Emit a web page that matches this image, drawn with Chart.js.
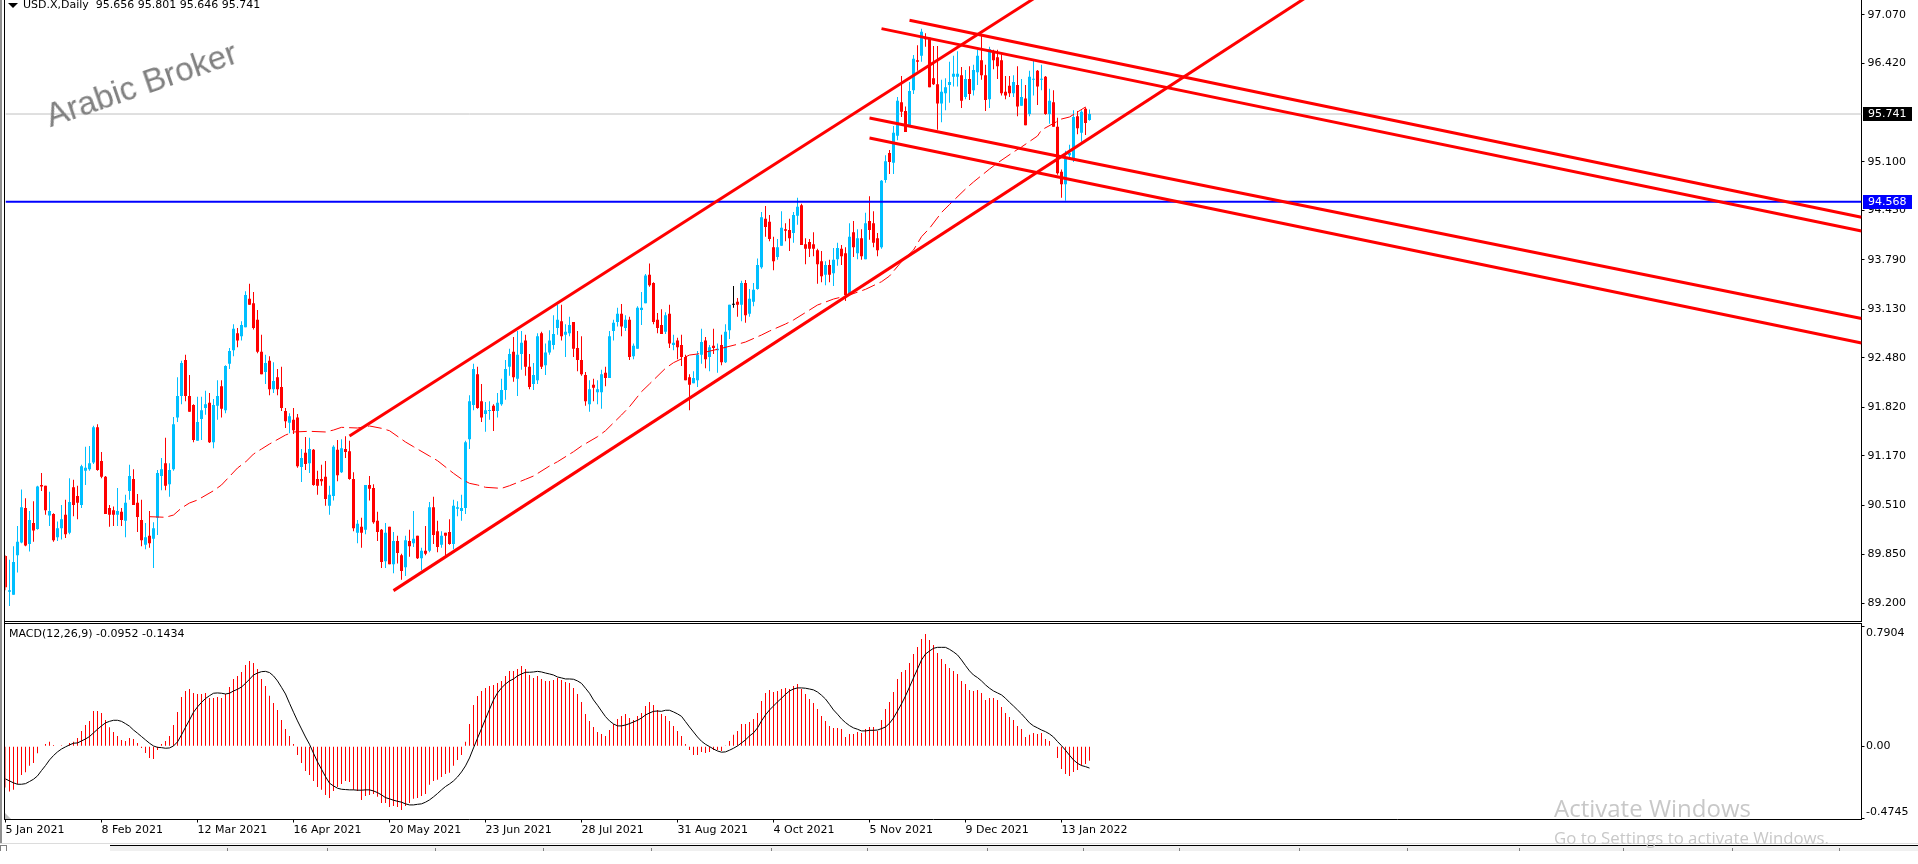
<!DOCTYPE html>
<html>
<head>
<meta charset="utf-8">
<title>USD.X Daily</title>
<script src="https://cdn.jsdelivr.net/npm/chart.js@4/dist/chart.umd.min.js"></script>
<style>
html, body { margin: 0; padding: 0; background: #fff; overflow: hidden; }
#page { position: relative; width: 1918px; height: 864px; overflow: hidden; font: 11px "DejaVu Sans", sans-serif; color: #000; }
canvas { position: absolute; left: 0; }
#priceCanvas { top: 0; }
#macdCanvas { top: 623px; }
.box { position: absolute; }
.label { position: absolute; white-space: pre; line-height: 12px; }
#brand { position: absolute; left: 52px; top: 99px; font: 33px "Liberation Sans", sans-serif; color: #808080; line-height: 33px; white-space: pre; transform: rotate(-19deg); transform-origin: 0 100%; }
.activate { position: absolute; left: 1554px; color: #c8c8c8; font-family: "Open Sans", sans-serif; white-space: pre; }
</style>
</head>
<body>
<div id="page">
  <canvas id="priceCanvas" width="1918" height="622"></canvas>
  <canvas id="macdCanvas" width="1918" height="222"></canvas>

  <div class="box" style="left:0;top:0;width:2px;height:843px;background:#909090"></div>
  <div class="box" style="left:4px;top:0;width:1px;height:820px;background:#000"></div>
  <div class="box" style="left:4px;top:621px;width:1858px;height:1px;background:#000"></div>
  <div class="box" style="left:4px;top:623px;width:1858px;height:1px;background:#000"></div>
  <div class="box" style="left:8px;top:3px;border-left:5px solid transparent;border-right:5px solid transparent;border-top:5px solid #000"></div>
  <div class="box" style="left:5px;top:813px;border-left:6px solid #c0c0c0;border-top:6px solid transparent"></div>

  <div class="label" style="left:23px;top:-1px">USD.X,Daily  95.656 95.801 95.646 95.741</div>
  <div class="label" style="left:9px;top:628px">MACD(12,26,9) -0.0952 -0.1434</div>
  <div id="brand">Arabic Broker</div>

  <div class="box" style="left:0;top:843px;width:1918px;height:1px;background:#dcdcdc"></div>
  <div class="box" style="left:110px;top:845px;width:1808px;height:6px;background:#f0f0f0;border-top:1px solid #000;box-sizing:border-box"></div>
  <div class="box" style="left:0;top:845px;width:7px;height:6px;border:1px solid #808080;border-bottom:0;box-sizing:border-box"></div>
  <div id="tabs"></div>

  <div class="activate" style="top:793px;font-size:24px;line-height:30px">Activate Windows</div>
  <div class="activate" style="top:827px;font-size:16.8px;line-height:22px">Go to Settings to activate Windows.</div>
  <div class="box" style="left:0;top:851px;width:1918px;height:13px;background:#fff"></div>
</div>

<script>
const tickDates = ['5 Jan 2021', '8 Feb 2021', '12 Mar 2021', '16 Apr 2021', '20 May 2021', '23 Jun 2021',
    '28 Jul 2021', '31 Aug 2021', '4 Oct 2021', '5 Nov 2021', '9 Dec 2021', '13 Jan 2022'];
const priceTicks = [97.07, 96.42, 95.1, 94.45, 93.79, 93.13, 92.48, 91.82, 91.17, 90.51, 89.85, 89.2];
const macdTicks = [0.7904, 0, -0.4745];

const candleOpen = [
    89.83,89.35,89.31,89.84,90.01,90.47,89.99,90.27,90.19,90.78,90.77,90.37,90.39,90.08,90.20,90.38,90.14,90.75,90.63,90.51,
    90.97,90.99,91.08,91.55,91.10,90.89,90.47,90.44,90.38,90.42,90.30,90.70,90.86,90.54,90.31,89.98,90.10,90.06,90.34,90.90,
    91.07,90.79,90.99,91.68,91.97,92.45,91.97,91.85,91.37,91.66,91.81,91.88,91.35,91.84,92.10,91.78,92.40,92.58,92.81,92.77,
    92.89,93.27,93.21,92.99,92.56,92.29,92.44,92.06,92.22,92.09,91.77,91.61,91.65,91.68,91.02,91.21,91.07,91.25,90.86,90.86,
    90.89,90.50,90.63,91.25,90.95,91.26,91.23,90.86,90.14,90.22,90.18,90.78,90.74,90.30,90.18,89.76,90.22,89.72,90.03,89.84,
    89.68,90.03,90.00,90.10,89.80,89.90,89.90,90.48,90.16,89.98,90.14,90.15,89.99,90.46,90.43,90.47,91.39,91.85,92.26,91.90,
    91.73,91.77,91.84,91.77,91.86,92.05,92.36,92.56,92.20,92.53,92.71,92.36,92.13,92.18,92.81,92.38,92.55,92.65,92.88,92.97,
    92.79,92.81,92.96,92.61,92.45,92.25,91.86,92.12,92.02,92.02,92.28,92.21,92.84,92.96,93.07,92.88,92.99,92.50,92.60,93.12,
    93.21,93.59,93.48,92.99,92.92,92.83,93.07,92.65,92.71,92.65,92.49,92.22,92.14,92.18,92.52,92.71,92.49,92.64,92.58,92.65,
    92.42,92.85,93.19,93.23,93.19,93.48,93.07,93.23,93.40,93.69,94.34,94.30,93.96,93.83,93.98,94.20,94.19,94.15,94.38,94.52,
    94.00,94.03,94.00,93.92,93.77,93.59,93.72,93.61,93.80,93.94,93.88,93.33,94.16,93.88,94.08,93.80,94.31,94.28,94.08,93.96,
    94.86,95.22,95.09,95.45,95.90,95.78,95.58,96.06,96.46,96.52,96.76,96.76,96.22,96.14,95.88,96.02,96.13,96.24,96.24,96.26,
    95.97,96.21,96.06,96.30,96.46,96.26,95.94,96.58,96.50,96.46,96.04,96.12,96.02,96.13,95.85,95.95,95.74,96.20,96.32,96.20,
    96.24,95.74,95.90,95.57,94.97,94.80,95.19,95.14,95.71,95.49,95.81,95.66];
const candleClose = [
    89.41,89.37,89.75,90.02,90.48,89.97,90.31,90.17,90.76,90.76,90.44,90.43,90.04,90.20,90.32,90.12,90.55,90.51,90.54,91.03,
    91.01,91.07,91.55,90.98,90.89,90.39,90.38,90.38,90.43,90.31,90.54,90.90,90.51,90.35,90.04,90.08,90.00,90.20,90.94,90.99,
    90.77,90.98,91.59,91.97,92.41,91.97,91.76,91.38,91.62,91.78,91.86,91.35,91.85,91.97,91.80,92.37,92.57,92.87,92.71,92.92,
    93.32,93.19,92.88,92.56,92.26,92.41,92.06,92.17,92.06,91.81,91.63,91.70,91.51,91.03,91.14,91.06,91.26,90.78,90.77,90.83,
    90.59,90.65,91.29,90.91,91.27,91.22,90.86,90.20,90.26,90.14,90.78,90.73,90.28,90.15,89.75,90.14,89.72,90.03,89.87,89.63,
    90.04,89.96,90.06,89.80,89.90,89.86,90.48,90.11,89.95,90.10,90.10,89.99,90.50,90.48,90.47,91.35,91.90,92.33,91.81,91.68,
    91.78,91.78,91.77,91.88,92.05,92.33,92.53,92.22,92.52,92.68,92.36,92.09,92.25,92.77,92.36,92.55,92.71,92.80,92.99,92.77,
    92.83,92.92,92.60,92.45,92.26,91.90,92.06,92.08,92.06,92.26,92.21,92.77,92.95,93.07,92.90,92.99,92.49,92.64,93.15,93.15,
    93.58,93.45,92.96,92.88,92.80,93.05,92.67,92.68,92.62,92.49,92.18,92.12,92.21,92.52,92.69,92.46,92.62,92.61,92.60,92.42,
    92.83,93.19,93.19,93.19,93.48,93.05,93.27,93.39,93.72,94.36,94.23,94.07,93.77,93.96,94.22,94.18,94.08,94.39,94.50,93.99,
    93.94,93.94,93.94,93.73,93.57,93.72,93.59,93.79,93.95,93.84,93.32,94.10,93.96,94.08,93.84,94.28,94.19,94.02,93.92,94.85,
    95.11,95.10,95.49,95.92,95.77,95.50,96.05,96.48,96.44,96.84,96.74,96.10,96.14,95.88,96.04,96.10,96.17,96.28,96.28,95.92,
    96.21,96.01,96.33,96.52,96.26,95.93,96.61,96.46,96.38,96.02,95.99,96.02,96.17,95.84,95.97,95.59,96.24,96.21,96.11,96.21,
    95.74,95.92,95.57,94.95,94.80,95.14,95.22,95.70,95.55,95.77,95.62,95.74];
const candleHigh = [
    89.84,89.78,89.96,90.23,90.72,90.60,90.43,90.56,90.77,90.94,90.77,90.69,90.40,90.29,90.51,90.58,90.87,90.85,90.77,91.05,
    91.29,91.30,91.57,91.59,91.22,90.90,90.51,90.49,90.74,90.47,90.65,91.05,90.99,90.66,90.58,90.27,90.43,90.28,90.98,91.14,
    91.41,91.07,91.69,92.22,92.44,92.52,92.25,91.86,91.96,91.96,92.04,92.01,91.93,92.18,92.18,92.38,92.61,92.93,92.88,92.97,
    93.37,93.47,93.36,93.12,92.79,92.52,92.50,92.42,92.33,92.36,91.81,91.74,91.81,91.73,91.26,91.42,91.41,91.26,90.97,91.05,
    91.10,90.77,91.31,91.38,91.39,91.43,91.37,90.95,90.31,90.34,90.78,90.90,90.79,90.42,90.19,90.27,90.22,90.15,90.10,89.86,
    90.10,90.18,90.43,90.10,89.94,90.23,90.55,90.62,90.30,90.16,90.14,90.32,90.58,90.56,90.65,91.37,91.98,92.40,92.36,92.13,
    91.89,91.90,91.86,92.01,92.20,92.45,92.60,92.76,92.84,92.84,92.79,92.53,92.41,92.81,92.83,92.67,92.85,93.05,93.19,93.19,
    92.93,93.03,92.96,92.84,92.77,92.29,92.18,92.20,92.18,92.32,92.36,92.84,92.99,93.15,93.20,93.05,93.03,92.67,93.17,93.36,
    93.60,93.74,93.49,93.08,93.13,93.09,93.19,92.79,92.75,92.79,92.52,92.26,92.30,92.57,92.87,92.76,92.65,92.87,92.67,92.79,
    92.93,93.19,93.44,93.28,93.51,93.52,93.40,93.48,93.81,94.43,94.51,94.39,94.10,94.07,94.44,94.28,94.34,94.43,94.62,94.54,
    94.08,94.07,94.16,93.94,93.91,93.77,93.79,93.95,94.02,93.99,93.96,94.28,94.31,94.20,94.20,94.42,94.64,94.44,94.15,94.86,
    95.19,95.26,95.58,95.97,96.25,95.84,96.17,96.53,96.66,96.88,96.82,96.76,96.65,96.65,96.20,96.22,96.44,96.52,96.58,96.37,
    96.33,96.38,96.40,96.60,96.80,96.40,96.64,96.60,96.60,96.54,96.25,96.25,96.26,96.38,96.21,96.13,96.32,96.45,96.33,96.40,
    96.25,96.08,96.06,95.69,95.00,95.25,95.33,95.79,95.78,95.79,95.83,95.80];
const candleLow = [
    89.37,89.16,89.31,89.61,90.00,89.96,89.89,90.02,90.18,90.70,90.38,90.23,90.02,90.03,90.05,90.07,90.12,90.36,90.32,90.47,
    90.78,90.97,91.06,90.97,90.87,90.39,90.22,90.23,90.23,90.23,90.08,90.58,90.51,90.15,89.96,89.92,89.94,89.67,90.11,90.71,
    90.71,90.62,90.97,91.62,91.86,91.90,91.76,91.35,91.37,91.38,91.72,91.34,91.27,91.65,91.68,91.74,92.33,92.50,92.62,92.71,
    92.89,93.19,92.86,92.54,92.26,92.13,91.98,92.01,91.98,91.77,91.54,91.47,91.46,91.01,90.82,90.98,90.94,90.77,90.65,90.77,
    90.50,90.38,90.57,90.83,90.94,91.14,90.85,90.16,90.00,89.94,90.12,90.57,90.26,90.03,89.67,89.67,89.72,89.60,89.73,89.51,
    89.56,89.82,89.95,89.79,89.64,89.84,89.88,89.99,89.88,89.94,89.83,89.98,89.92,90.36,90.30,90.39,91.26,91.78,91.80,91.62,
    91.49,91.65,91.50,91.68,91.84,91.92,92.24,92.16,91.97,92.32,92.24,92.06,92.05,92.13,92.33,92.25,92.52,92.59,92.79,92.71,
    92.49,92.77,92.49,92.30,92.24,91.84,91.76,91.90,91.86,91.80,92.10,92.21,92.71,92.90,92.77,92.84,92.45,92.46,92.60,92.92,
    93.21,93.43,92.93,92.81,92.80,92.80,92.61,92.58,92.46,92.37,92.18,91.78,92.14,92.09,92.40,92.34,92.30,92.53,92.28,92.38,
    92.41,92.73,93.15,93.03,92.97,92.95,93.03,93.17,93.39,93.67,94.10,94.04,93.65,93.79,93.98,94.04,93.91,94.02,94.26,93.99,
    93.73,93.83,93.84,93.47,93.49,93.45,93.49,93.44,93.71,93.72,93.24,93.32,93.83,93.80,93.79,93.80,94.06,93.96,93.84,93.94,
    94.82,94.94,94.94,95.39,95.70,95.50,95.58,96.01,96.32,96.44,96.64,96.10,96.13,95.53,95.63,95.79,95.89,96.11,96.11,95.82,
    95.94,95.93,95.99,96.13,96.20,95.78,95.82,96.34,96.21,95.99,95.94,95.97,95.97,95.71,95.85,95.59,95.71,95.99,95.86,96.06,
    95.73,95.61,95.57,94.93,94.62,94.58,95.15,95.10,95.47,95.37,95.46,95.65];

// moving average at these bars
const maBars = [36,40,42,44,46,48,52,54,58,60,62,64,66,70,72,76,80,82,84,88,91,94,96,100,102,106,108,112,114,116,118,
    120,124,126,130,132,136,138,142,144,148,150,154,156,159,161,165,167,171,173,179,183,185,189,191,195,197,201,203,207,
    211,215,219,221,224,227,229,231,234,236,240,242,246,248,252,254,258,259,264,266,270];
const maValues = [90.355,90.347,90.377,90.471,90.538,90.578,90.702,90.779,91.006,91.086,91.193,91.26,91.327,91.447,91.488,91.497,
    91.488,91.514,91.55,91.541,91.568,91.537,91.505,91.354,91.291,91.166,91.104,90.935,90.859,90.801,90.779,
    90.748,90.734,90.769,90.855,90.899,91.033,91.09,91.224,91.3,91.425,91.505,91.715,91.826,92.027,92.13,92.34,92.415,92.517,92.531,
    92.607,92.661,92.691,92.785,92.838,92.932,92.986,93.119,93.186,93.266,93.32,93.396,93.498,93.574,93.766,93.922,94.1,94.212,
    94.424,94.531,94.738,94.832,95.005,95.086,95.233,95.3,95.447,95.527,95.674,95.701,95.835];

const macdHist = [
    -.272,-.298,-.287,-.25,-.189,-.171,-.129,-.11,-.046,-.004,.015,.029,.009,.004,.007,.004,.022,.029,.055,.101,
    .14,.167,.232,.232,.219,.173,.125,.094,.068,.042,.035,.055,.048,.022,-.011,-.044,-.077,-.083,-.024,.015,
    .035,.068,.14,.226,.325,.364,.377,.351,.344,.344,.351,.318,.318,.325,.318,.344,.39,.443,.463,.489,
    .535,.561,.548,.509,.443,.397,.333,.285,.239,.173,.114,.068,.015,-.057,-.11,-.162,-.189,-.228,-.268,-.287,
    -.32,-.34,-.294,-.268,-.248,-.228,-.235,-.287,-.294,-.353,-.327,-.32,-.314,-.333,-.373,-.373,-.399,-.393,-.399,-.419,
    -.393,-.373,-.346,-.34,-.327,-.314,-.254,-.228,-.221,-.202,-.182,-.175,-.129,-.09,-.057,.029,.147,.272,.331,.364,
    .384,.397,.404,.417,.43,.463,.496,.496,.509,.529,.509,.469,.45,.463,.443,.43,.43,.436,.45,.436,
    .423,.417,.384,.344,.292,.213,.167,.127,.094,.081,.068,.107,.147,.18,.2,.213,.186,.173,.2,.219,
    .265,.292,.272,.239,.213,.2,.167,.134,.101,.068,.015,-.024,-.057,-.057,-.037,-.044,-.037,-.024,-.024,-.031,
    .002,.035,.075,.101,.147,.147,.16,.18,.219,.298,.351,.371,.357,.364,.377,.384,.377,.397,.41,.377,
    .344,.311,.285,.246,.2,.167,.134,.121,.121,.114,.061,.081,.081,.094,.088,.114,.127,.127,.101,.173,
    .246,.292,.357,.443,.489,.502,.548,.607,.654,.706,.739,.7,.667,.614,.575,.542,.515,.496,.476,.43,
    .41,.371,.364,.371,.351,.305,.318,.318,.305,.259,.219,.193,.173,.134,.114,.061,.075,.088,.081,.088,
    .048,.035,0,-.077,-.149,-.182,-.195,-.169,-.156,-.129,-.116,-.0952];
const macdSignal = [
    -.215,-.228,-.241,-.25,-.25,-.246,-.232,-.217,-.195,-.16,-.127,-.09,-.061,-.037,-.018,-.004,.009,.02,.022,.035,
    .048,.064,.088,.112,.134,.154,.164,.171,.171,.164,.149,.132,.107,.086,.064,.042,.02,.002,-.007,-.009,
    -.013,-.011,.002,.029,.075,.125,.173,.224,.259,.289,.314,.333,.349,.351,.349,.344,.349,.364,.375,.39,
    .414,.441,.469,.482,.491,.493,.485,.463,.43,.388,.344,.283,.224,.167,.114,.061,.013,-.046,-.103,-.151,
    -.2,-.243,-.261,-.276,-.283,-.285,-.287,-.287,-.289,-.289,-.287,-.287,-.294,-.305,-.32,-.338,-.346,-.355,-.362,-.368,
    -.379,-.386,-.386,-.382,-.379,-.368,-.353,-.333,-.311,-.287,-.265,-.248,-.228,-.202,-.169,-.129,-.077,-.011,.053,.116,
    .18,.243,.305,.351,.384,.41,.43,.443,.463,.476,.487,.487,.489,.493,.489,.482,.476,.469,.456,.45,
    .443,.443,.441,.43,.414,.382,.349,.305,.27,.232,.195,.167,.147,.134,.134,.14,.149,.16,.171,.186,
    .206,.219,.23,.232,.23,.237,.237,.226,.213,.197,.162,.127,.094,.061,.033,.013,-.002,-.018,-.031,-.039,
    -.037,-.026,-.013,.002,.022,.042,.068,.088,.121,.167,.206,.239,.265,.292,.316,.342,.364,.377,.384,.384,
    .382,.377,.371,.357,.336,.311,.276,.239,.211,.18,.156,.136,.121,.112,.101,.101,.105,.105,.107,.116,
    .127,.151,.186,.232,.279,.331,.39,.45,.509,.568,.607,.627,.645,.651,.651,.651,.638,.621,.601,.568,
    .531,.496,.469,.452,.43,.404,.382,.364,.351,.338,.316,.289,.265,.239,.213,.184,.154,.134,.121,.107,
    .096,.081,.061,.031,.004,-.026,-.059,-.09,-.112,-.127,-.134,-.1434];

// hand drawn channels: [bar, price] for each end
const channelUpTop = [[86, 91.435], [257, 97.282]];
const channelUpBottom = [[97, 89.366], [327, 97.365]];
const channelDown1 = [[226, 96.996], [464, 94.359]];
const channelDown2 = [[219, 96.883], [464, 94.176]];
const channelDown3 = [[216, 95.688], [464, 93.006]];
const channelDown4 = [[216, 95.42], [464, 92.678]];

const lastPrice = 95.741;
const supportPrice = 94.568;

const barSlots = 465;
const tickEvery = 24;
const axisLabels = Array.from({ length: barSlots }, (_, i) => tickDates[i / tickEvery] || '');

const UP = '#00bfff';
const DOWN = '#ff0000';
const TEXT_FONT = { family: 'DejaVu Sans', size: 11 };

const candleColor = candleOpen.map((o, i) => candleClose[i] > o ? UP : candleClose[i] < o ? DOWN : '#000000');

function channelLine(ends) {
    return { type: 'line', xAxisID: 'xLine', data: ends.map(p => ({ x: p[0], y: p[1] })), borderColor: DOWN, borderWidth: 3, pointRadius: 0, order: 1 };
}

function hLine(price, color, width, order) {
    return { type: 'line', xAxisID: 'xLine', data: [{ x: 0, y: price }, { x: barSlots - 1, y: price }], borderColor: color, borderWidth: width, pointRadius: 0, order: order };
}

// price boxes on the right axis
const priceBoxes = {
    id: 'priceBoxes',
    afterDraw(chart) {
        const ctx = chart.ctx, y = chart.scales.y;
        [[lastPrice, '#000000'], [supportPrice, '#0000ff']].forEach(([v, c]) => {
            const py = y.getPixelForValue(v);
            ctx.fillStyle = c;
            ctx.fillRect(1863, Math.round(py) - 7, 49, 14);
            ctx.fillStyle = '#ffffff';
            ctx.font = '11px "DejaVu Sans"';
            ctx.textBaseline = 'middle';
            ctx.textAlign = 'left';
            ctx.fillText(v.toFixed(3), 1868, Math.round(py) + 0.5);
        });
    }
};

// MT4 nudges the first and last macd labels inside the pane
const macdLabels = {
    id: 'macdLabels',
    afterDraw(chart) {
        const ctx = chart.ctx, y = chart.scales.y;
        const nudge = [7, 0, -6];
        ctx.fillStyle = '#000000';
        ctx.font = '11px "DejaVu Sans"';
        ctx.textBaseline = 'middle';
        ctx.textAlign = 'left';
        macdTicks.forEach((v, i) => {
            ctx.fillText(v === 0 ? '0.00' : String(v), 1866, y.getPixelForValue(v) + nudge[i]);
        });
    }
};

function fixRightAxis(scale) {
    scale.width = 56.5;
    scale.paddingTop = 0;
    scale.paddingBottom = 0;
}

const priceChart = new Chart(document.getElementById('priceCanvas'), {
    type: 'bar',
    plugins: [priceBoxes],
    data: {
        labels: axisLabels,
        datasets: [
            hLine(lastPrice, '#c0c0c0', 1, 6),
            { data: candleLow.map((l, i) => [l, candleHigh[i]]), backgroundColor: candleColor, barThickness: 1, grouped: false, inflateAmount: 0, order: 5 },
            { data: candleOpen.map((o, i) => [o, candleClose[i]]), backgroundColor: candleColor, barThickness: 3, grouped: false, inflateAmount: 0, minBarLength: 1, order: 4 },
            { type: 'line', xAxisID: 'xLine', data: maBars.map((b, i) => ({ x: b, y: maValues[i] })), borderColor: DOWN, borderWidth: 1, borderDash: [14, 5], pointRadius: 0, order: 3 },
            hLine(supportPrice, '#0000ff', 2, 2),
            channelLine(channelUpTop),
            channelLine(channelUpBottom),
            channelLine(channelDown1),
            channelLine(channelDown2),
            channelLine(channelDown3),
            channelLine(channelDown4)
        ]
    },
    options: {
        responsive: false,
        devicePixelRatio: 1,
        animation: false,
        layout: { padding: { left: 5.5, right: 0, top: 0, bottom: 0.5 } },
        plugins: { legend: { display: false }, tooltip: { enabled: false } },
        scales: {
            x: { display: false, offset: false, grid: { display: false } },
            xLine: { type: 'linear', display: false, min: 0, max: barSlots - 1, offset: false },
            y: {
                position: 'right',
                min: 88.953,
                max: 97.266,
                afterFit: fixRightAxis,
                afterBuildTicks(scale) { scale.ticks = priceTicks.map(v => ({ value: v })); },
                grid: { drawOnChartArea: false, color: '#000', tickLength: 3 },
                border: { color: '#000' },
                ticks: { autoSkip: false, color: '#000', font: TEXT_FONT, padding: 3, callback: v => v.toFixed(3) }
            }
        }
    }
});

const macdChart = new Chart(document.getElementById('macdCanvas'), {
    type: 'bar',
    plugins: [macdLabels],
    data: {
        labels: axisLabels,
        datasets: [
            { data: macdHist, backgroundColor: DOWN, barThickness: 1, inflateAmount: 0, order: 2 },
            { type: 'line', data: macdSignal, borderColor: '#000000', borderWidth: 1, pointRadius: 0, order: 1 }
        ]
    },
    options: {
        responsive: false,
        devicePixelRatio: 1,
        animation: false,
        layout: { padding: { left: 5.5, right: 0, top: 0.5, bottom: 0 } },
        plugins: { legend: { display: false }, tooltip: { enabled: false } },
        scales: {
            x: {
                offset: false,
                afterFit(scale) { scale.height = 25.5; scale.paddingLeft = 0; scale.paddingRight = 0; },
                afterBuildTicks(scale) { scale.ticks = scale.ticks.filter(t => axisLabels[t.value] !== ''); },
                grid: { drawOnChartArea: false, offset: false, color: '#000', tickLength: 3 },
                border: { color: '#000' },
                ticks: { autoSkip: false, maxRotation: 0, align: 'start', color: '#000', font: TEXT_FONT, padding: 1 }
            },
            y: {
                position: 'right',
                min: -0.482,
                max: 0.808,
                afterFit: fixRightAxis,
                afterBuildTicks(scale) { scale.ticks = macdTicks.map(v => ({ value: v })); },
                grid: { drawOnChartArea: false, color: '#000', tickLength: 3 },
                border: { color: '#000' },
                ticks: { autoSkip: false, callback: () => '' }
            }
        }
    }
});

// tab dividers in the strip under the chart
const tabDividers = [227, 327, 435, 543, 651, 771, 867, 987, 1083, 1179, 1299, 1407, 1519, 1623, 1732, 1839];
const tabs = document.getElementById('tabs');
tabDividers.forEach(x => {
    const d = document.createElement('div');
    d.className = 'box';
    d.style.cssText = 'left:' + x + 'px;top:848px;width:1px;height:3px;background:#808080';
    tabs.appendChild(d);
});
</script>
</body>
</html>
